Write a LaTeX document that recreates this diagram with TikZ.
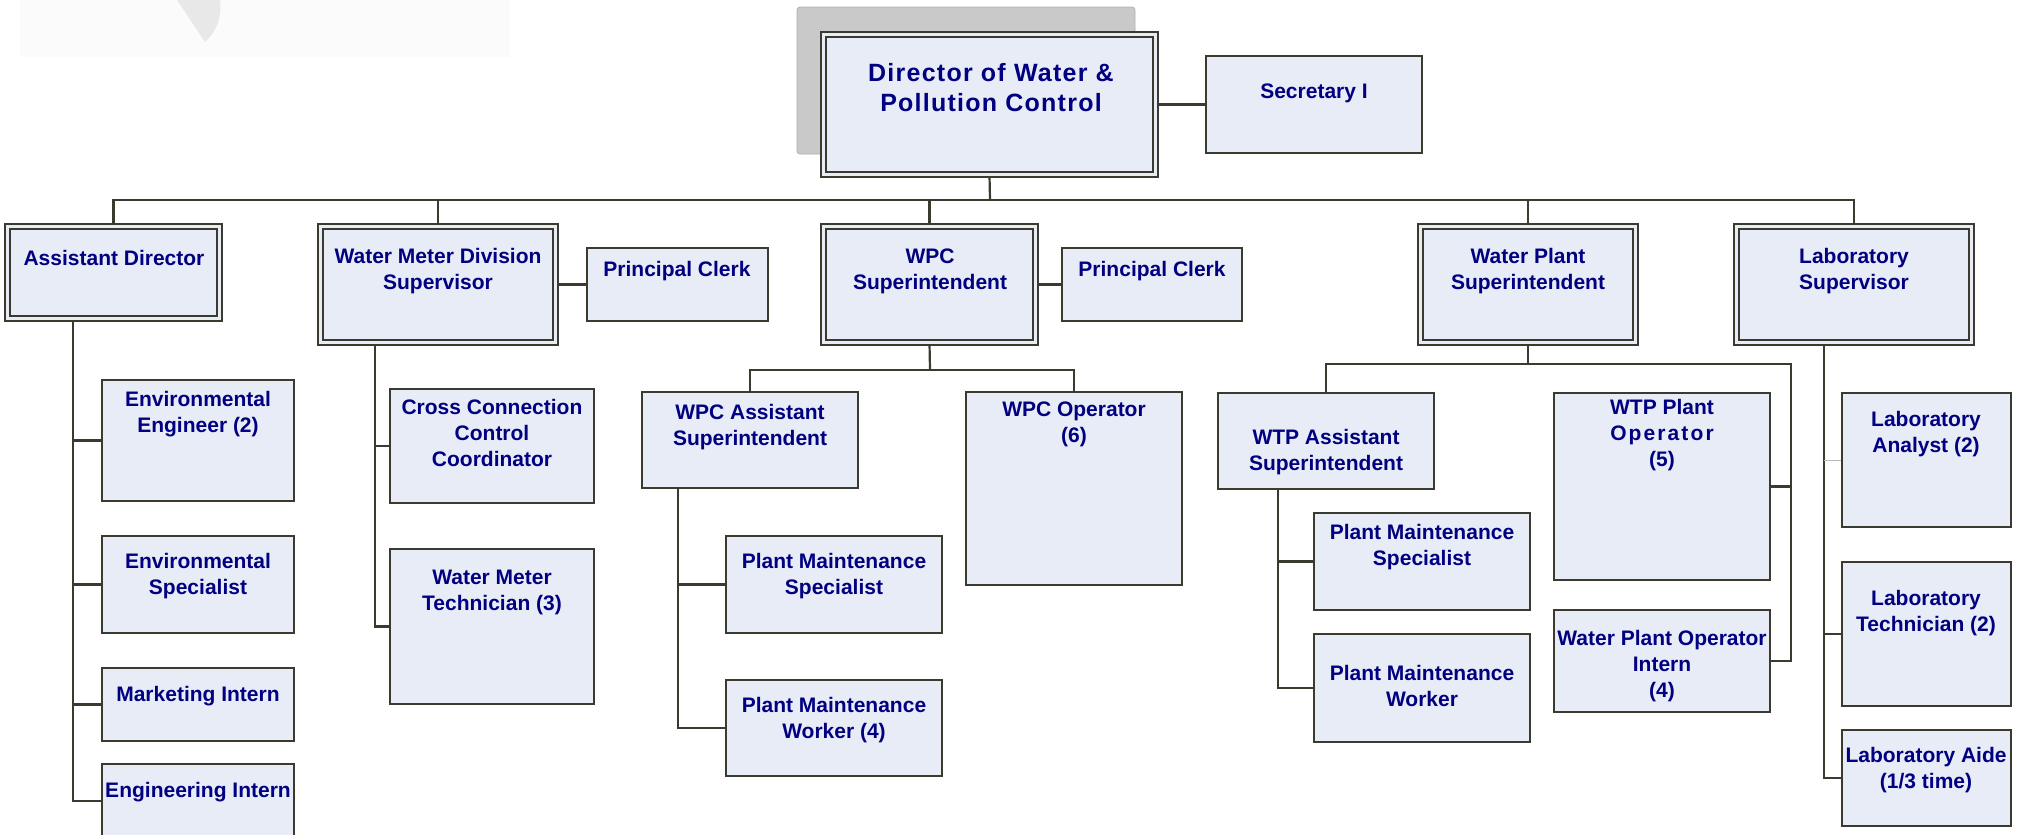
\documentclass[tikz,border=0pt]{standalone}
\usepackage{fontspec}
\setmainfont{Liberation Sans}
\usetikzlibrary{fit,backgrounds}
\definecolor{edge}{HTML}{3A3A2E}
\definecolor{boxfill}{HTML}{E8ECF7}
\definecolor{navy}{HTML}{000080}
\definecolor{shade}{HTML}{C9C9C9}
\tikzset{
  box/.style={draw=edge, fill=boxfill, line width=1pt, inner sep=0pt},
  dbox/.style={box, line width=0.9pt, double=boxfill, double distance=1.6pt},
  lbl/.style={text=navy, font=\bfseries\fontsize{10.5}{13}\selectfont, align=center, inner sep=0pt},
  link/.style={draw=edge, line width=1.1pt},
}
\begin{document}
\begin{tikzpicture}[x=0.5pt,y=-0.5pt]
  \useasboundingbox (0,0) rectangle (2025,835);
  \clip (0,0) rectangle (2025,835);
  \fill[black!1.5] (20,0) rectangle (510,57);
  \fill[black!9] (177,0) -- (205,42) .. controls (218,30) and (222,15) .. (220,0) -- cycle;

  \draw[fill=shade, draw=black!30, rounded corners=1.5pt] (797,7) rectangle (1135,154);
  \node[dbox, fit={(823.5,34.5) (1155.5,174.5)}] (director) {};
  \node[box, fit={(1206,56) (1422,153)}] (sec) {};

  \node[dbox, fit={(7.5,226.5) (219.5,318.5)}] (asstDir) {};
  \node[dbox, fit={(320.5,226.5) (555.5,342.5)}] (meterSup) {};
  \node[box, fit={(587,248) (768,321)}] (clerkA) {};
  \node[dbox, fit={(823.5,226.5) (1035.5,342.5)}] (wpcSup) {};
  \node[box, fit={(1062,248) (1242,321)}] (clerkB) {};
  \node[dbox, fit={(1420.5,226.5) (1635.5,342.5)}] (plantSup) {};
  \node[dbox, fit={(1736.5,226.5) (1971.5,342.5)}] (labSup) {};

  \node[box, fit={(102,380) (294,501)}] (envEng) {};
  \node[box, fit={(102,536) (294,633)}] (envSpec) {};
  \node[box, fit={(102,668) (294,741)}] (mktIntern) {};
  \node[box, fit={(102,764) (294,838)}] (engIntern) {};
  \node[box, fit={(390,389) (594,503)}] (crossConn) {};
  \node[box, fit={(390,549) (594,704)}] (meterTech) {};
  \node[box, fit={(642,392) (858,488)}] (wpcAsst) {};
  \node[box, fit={(966,392) (1182,585)}] (wpcOper) {};
  \node[box, fit={(726,536) (942,633)}] (pmsA) {};
  \node[box, fit={(726,680) (942,776)}] (pmwA) {};
  \node[box, fit={(1218,393) (1434,489)}] (wtpAsst) {};
  \node[box, fit={(1314,513) (1530,610)}] (pmsB) {};
  \node[box, fit={(1314,634) (1530,742)}] (pmwB) {};
  \node[box, fit={(1554,393) (1770,580)}] (wtpOper) {};
  \node[box, fit={(1554,610) (1770,712)}] (wpoIntern) {};
  \node[box, fit={(1842,393) (2011,527)}] (labAnalyst) {};
  \node[box, fit={(1842,562) (2011,706)}] (labTech) {};
  \node[box, fit={(1842,730) (2011,826)}] (labAide) {};

  \node[lbl, font=\bfseries\fontsize{12.5}{15}\selectfont\addfontfeature{LetterSpace=5}] (directorT) at (991,88) {Director of Water \&\\Pollution Control};
  \node[lbl] (secT) at (1314,93) {Secretary I};
  \node[lbl] (asstDirT) at (114,258) {Assistant Director};
  \node[lbl] (meterSupT) at (438,271) {Water Meter Division\\Supervisor};
  \node[lbl] (clerkAT) at (677,271) {Principal Clerk};
  \node[lbl] (wpcSupT) at (930,271) {WPC\\Superintendent};
  \node[lbl] (clerkBT) at (1152,271) {Principal Clerk};
  \node[lbl] (plantSupT) at (1528,271) {Water Plant\\Superintendent};
  \node[lbl] (labSupT) at (1854,271) {Laboratory\\Supervisor};
  \node[lbl] (envEngT) at (198,414) {Environmental\\Engineer (2)};
  \node[lbl] (envSpecT) at (198,576) {Environmental\\Specialist};
  \node[lbl] (mktInternT) at (198,696) {Marketing Intern};
  \node[lbl] (engInternT) at (198,792) {Engineering Intern};
  \node[lbl] (crossConnT) at (492,433) {Cross Connection\\Control\\Coordinator};
  \node[lbl] (meterTechT) at (492,592) {Water Meter\\Technician (3)};
  \node[lbl] (wpcAsstT) at (750,427) {WPC Assistant\\Superintendent};
  \node[lbl] (wpcOperT) at (1074,424) {WPC Operator\\(6)};
  \node[lbl] (pmsAT) at (834,576) {Plant Maintenance\\Specialist};
  \node[lbl] (pmwAT) at (834,720) {Plant Maintenance\\Worker (4)};
  \node[lbl] (wtpAsstT) at (1326,452) {WTP Assistant\\Superintendent};
  \node[lbl] (pmsBT) at (1422,547) {Plant Maintenance\\Specialist};
  \node[lbl] (pmwBT) at (1422,686) {Plant Maintenance\\Worker};
  \node[lbl] (wtpOperT) at (1662,435) {WTP Plant\\{\addfontfeature{LetterSpace=10}Operator}\\(5)};
  \node[lbl] (wpoInternT) at (1662,666) {Water Plant Operator\\Intern\\(4)};
  \node[lbl] (labAnalystT) at (1926,434) {Laboratory\\Analyst (2)};
  \node[lbl] (labTechT) at (1926,613) {Laboratory\\Technician (2)};
  \node[lbl] (labAideT) at (1926,770) {Laboratory Aide\\(1/3 time)};

  \begin{scope}[on background layer]
    \coordinate (bus) at (990,200);
    \draw[link] (director) -- (sec);
    \draw[link] (director.south) -- (bus);
    \draw[link] (asstDir.north) |- (bus) -| (labSup.north);
    \foreach \n in {meterSup,wpcSup,plantSup}
      \draw[link] (\n.north) -- (\n.north |- bus);
    \draw[link] (meterSup) -- (clerkA);
    \draw[link] (wpcSup) -- (clerkB);
    \foreach \n in {envEng,envSpec,mktIntern,engIntern}
      \draw[link] (73,0 |- asstDir.south) |- (\n.west);
    \foreach \n in {crossConn,meterTech}
      \draw[link] (375,0 |- meterSup.south) |- (\n.west);
    \coordinate (wpcBus) at (930,370);
    \draw[link] (wpcSup.south) -- (wpcBus);
    \draw[link] (wpcAsst.north) |- (wpcBus) -| (wpcOper.north);
    \foreach \n in {pmsA,pmwA}
      \draw[link] (678,0 |- wpcAsst.south) |- (\n.west);
    \coordinate (wtpBus) at (1528,364);
    \coordinate (wtpRight) at (1791,364);
    \draw[link] (plantSup.south) -- (wtpBus);
    \draw[link] (wtpAsst.north) |- (wtpBus) -- (wtpRight) |- (wpoIntern.east);
    \draw[link] (wtpOper.east) -- (wtpOper.east -| wtpRight);
    \foreach \n in {pmsB,pmwB}
      \draw[link] (1278,0 |- wtpAsst.south) |- (\n.west);
    \foreach \n in {labTech,labAide}
      \draw[link] (1824,0 |- labSup.south) |- (\n.west);
    \draw[link, draw=gray!55, line width=0.5pt] (1824,0 |- labAnalyst.west) -- (labAnalyst.west);
  \end{scope}
\end{tikzpicture}
\end{document}
